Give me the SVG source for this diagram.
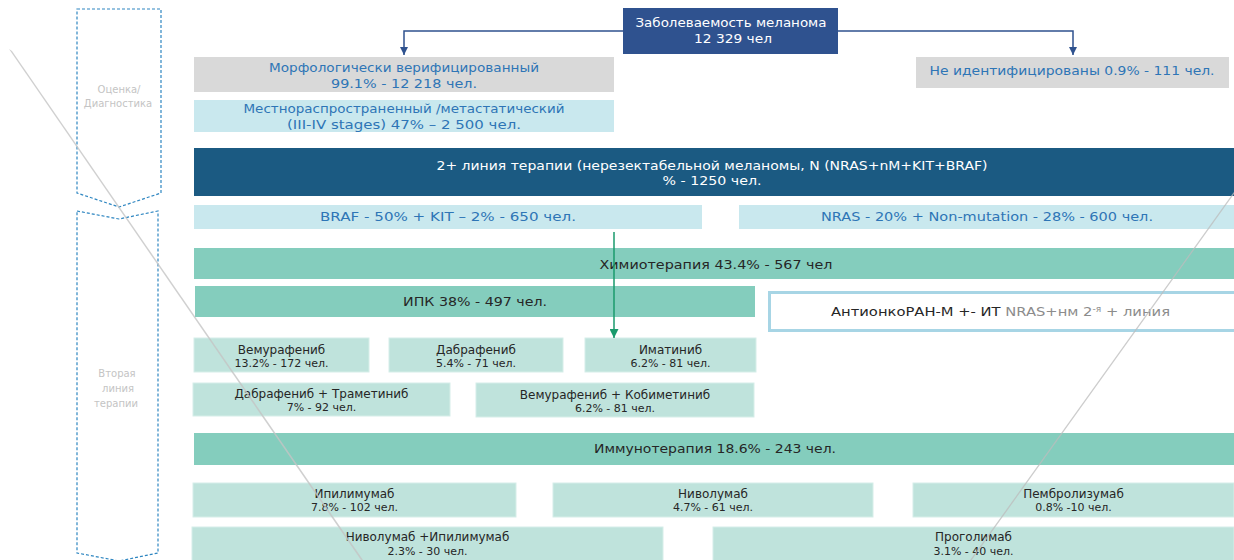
<svg xmlns="http://www.w3.org/2000/svg" width="1234" height="560" viewBox="0 0 1234 560">
<defs>
<style>
.bg{fill:#ffffff}
.chev{fill:none;stroke:#2e86c1;stroke-width:1.2;stroke-dasharray:3,2}
.side{font-family:"DejaVu Sans","Open Sans",sans-serif;font-size:10px;fill:#c4c4c4;text-anchor:middle}
.gray{fill:#d9d9d9}
.lblue{fill:#c9e8ee}
.dblue{fill:#1b5a82}
.top{fill:#2f528f}
.green{fill:#84cdbd}
.sub{fill:#bfe3dc;stroke:#d6eee9;stroke-width:1}
.tb{font-family:"DejaVu Sans","Liberation Sans",sans-serif;font-size:13px;fill:#2e75b6;text-anchor:middle}
.tn{font-family:"DejaVu Sans","Liberation Sans",sans-serif;font-size:13px;text-anchor:middle}
.tv{font-family:"DejaVu Sans","Liberation Sans",sans-serif;text-anchor:middle;fill:#262626}
.nm{font-family:"DejaVu Sans","Liberation Sans",sans-serif;text-anchor:middle;fill:#262626;font-size:12px}
.pc{font-family:"DejaVu Sans","Liberation Sans",sans-serif;text-anchor:middle;fill:#262626;font-size:11px}
.w{fill:#ffffff}
.bl{fill:#2e75b6}
.dk{fill:#262626}
.conn{fill:none;stroke:#2f528f;stroke-width:1.5}
.gconn{fill:none;stroke:#1a9a6c;stroke-width:1.5}
.deco{stroke:#bdbdbd;stroke-linecap:round;opacity:0.75}
</style>
<marker id="ab" viewBox="0 0 10 10" refX="10" refY="5" markerWidth="8" markerHeight="8" markerUnits="userSpaceOnUse" orient="auto"><path d="M0,0 L10,5 L0,10 z" fill="#2f528f"/></marker>
<marker id="ag" viewBox="0 0 10 10" refX="10" refY="5" markerWidth="9" markerHeight="9" markerUnits="userSpaceOnUse" orient="auto"><path d="M0,0 L10,5 L0,10 z" fill="#1a9a6c"/></marker>
</defs>
<rect class="bg" x="0" y="0" width="1234" height="560"/>

<g id="stage-diagnostics">
<polygon class="chev" points="77,9 161,9 161,193 119,207 77,193"/>
<text class="side" x="119" y="93">Оценка/</text>
<text class="side" x="118" y="107">Диагностика</text>
</g>
<g id="stage-second-line">
<polygon class="chev" points="77,211 119,219 158,211 158,553 119,561 77,553"/>
<text class="side" x="117" y="377">Вторая</text>
<text class="side" x="118" y="392">линия</text>
<text class="side" x="116" y="407">терапии</text>
</g>

<g id="incidence">
<rect class="top" x="623" y="8" width="215" height="46"/>
<text class="tn w" x="731" y="27" textLength="191" lengthAdjust="spacingAndGlyphs">Заболеваемость меланома</text>
<text class="tn w" x="733" y="43" textLength="78" lengthAdjust="spacingAndGlyphs">12 329 чел</text>
</g>

<g id="verified">
<rect class="gray" x="194" y="57" width="420" height="35"/>
<text class="tb" x="404" y="72" textLength="270" lengthAdjust="spacingAndGlyphs">Морфологически верифицированный</text>
<text class="tb" x="404" y="88" textLength="146" lengthAdjust="spacingAndGlyphs">99.1% - 12 218 чел.</text>
</g>

<g id="unidentified">
<rect class="gray" x="916" y="57" width="313" height="31"/>
<text class="tb" x="1072" y="75" textLength="285" lengthAdjust="spacingAndGlyphs">Не идентифицированы 0.9% - 111 чел.</text>
</g>

<g id="advanced">
<rect class="lblue" x="194" y="100" width="420" height="32"/>
<text class="tb" x="404" y="113" textLength="321" lengthAdjust="spacingAndGlyphs">Местнораспространенный /метастатический</text>
<text class="tb" x="404" y="129" textLength="234" lengthAdjust="spacingAndGlyphs">(III-IV stages) 47% – 2 500 чел.</text>
</g>

<g id="second-line">
<rect class="dblue" x="194" y="148" width="1040" height="48"/>
<text class="tn w" x="712" y="170" textLength="551" lengthAdjust="spacingAndGlyphs">2+ линия  терапии (нерезектабельной меланомы, N (NRAS+nM+KIT+BRAF)</text>
<text class="tn w" x="712" y="185" textLength="99" lengthAdjust="spacingAndGlyphs">% - 1250 чел.</text>
</g>

<g id="braf">
<rect class="lblue" x="194" y="205" width="508" height="24"/>
<text class="tn bl" x="448" y="221" textLength="256" lengthAdjust="spacingAndGlyphs">BRAF - 50% + KIT – 2% -  650 чел.</text>
</g>

<g id="nras">
<rect class="lblue" x="739" y="205" width="495" height="24"/>
<text class="tn bl" x="987" y="221" textLength="332" lengthAdjust="spacingAndGlyphs">NRAS - 20% + Non-mutation - 28% - 600 чел.</text>
</g>

<g id="chemo">
<rect class="green" x="194" y="248" width="1040" height="31"/>
<text class="tv" font-size="13" x="716" y="269" textLength="233" lengthAdjust="spacingAndGlyphs">Химиотерапия  43.4% - 567 чел</text>
</g>

<g id="ipk">
<rect class="green" x="195" y="286" width="560" height="31"/>
<text class="tv" font-size="13" x="475" y="306" textLength="144" lengthAdjust="spacingAndGlyphs">ИПК 38% - 497 чел.</text>
</g>

<g id="antionkoran">
<rect x="769.5" y="292.5" width="470" height="38" fill="#ffffff" stroke="#a7d5e5" stroke-width="3"/>
<text font-family="DejaVu Sans, Liberation Sans, sans-serif" font-size="13" x="831" y="316" fill="#262626" textLength="339" lengthAdjust="spacingAndGlyphs">АнтионкоРАН-М +- ИТ <tspan fill="#8c8c8c">NRAS+нм 2</tspan><tspan fill="#8c8c8c" font-size="8" dy="-4">-я</tspan><tspan fill="#8c8c8c" dy="4"> + линия</tspan></text>
</g>

<g id="vemurafenib">
<rect class="sub" x="194" y="338" width="175" height="34"/>
<text class="nm" x="281.5" y="354">Вемурафениб</text>
<text class="pc" x="281.5" y="367">13.2% - 172 чел.</text>
</g>
<g id="dabrafenib">
<rect class="sub" x="389" y="338" width="174" height="34"/>
<text class="nm" x="476" y="354">Дабрафениб</text>
<text class="pc" x="476" y="367">5.4% - 71 чел.</text>
</g>
<g id="imatinib">
<rect class="sub" x="585" y="338" width="171" height="34"/>
<text class="nm" x="670.5" y="354">Иматиниб</text>
<text class="pc" x="670.5" y="367">6.2% - 81 чел.</text>
</g>
<g id="dabrafenib-trametinib">
<rect class="sub" x="193" y="383" width="257" height="33"/>
<text class="nm" x="321.5" y="398">Дабрафениб + Траметиниб</text>
<text class="pc" x="321.5" y="411">7% - 92 чел.</text>
</g>
<g id="vemurafenib-cobimetinib">
<rect class="sub" x="476" y="383" width="278" height="34"/>
<text class="nm" x="615" y="399">Вемурафениб + Кобиметиниб</text>
<text class="pc" x="615" y="412">6.2% - 81 чел.</text>
</g>

<g id="immuno">
<rect class="green" x="194" y="433" width="1040" height="32"/>
<text class="tn dk" x="715" y="453" textLength="242" lengthAdjust="spacingAndGlyphs">Иммунотерапия 18.6% - 243 чел.</text>
</g>

<g id="ipilimumab">
<rect class="sub" x="193" y="483" width="323" height="34"/>
<text class="nm" x="354.5" y="498">Ипилимумаб</text>
<text class="pc" x="354.5" y="511">7.8% - 102 чел.</text>
</g>
<g id="nivolumab">
<rect class="sub" x="553" y="483" width="320" height="34"/>
<text class="nm" x="713" y="498">Ниволумаб</text>
<text class="pc" x="713" y="511">4.7% - 61 чел.</text>
</g>
<g id="pembrolizumab">
<rect class="sub" x="913" y="483" width="321" height="34"/>
<text class="nm" x="1073.5" y="498">Пембролизумаб</text>
<text class="pc" x="1073.5" y="511">0.8% -10 чел.</text>
</g>
<g id="nivolumab-ipilimumab">
<rect class="sub" x="192" y="527" width="471" height="34"/>
<text class="nm" x="427.5" y="541">Ниволумаб +Ипилимумаб</text>
<text class="pc" x="427.5" y="555">2.3% - 30 чел.</text>
</g>
<g id="progolimab">
<rect class="sub" x="713" y="527" width="521" height="34"/>
<text class="nm" x="973.5" y="541">Проголимаб</text>
<text class="pc" x="973.5" y="555">3.1% - 40 чел.</text>
</g>

<g id="connectors">
<path class="conn" d="M623,31 H404 V55" marker-end="url(#ab)"/>
<path class="conn" d="M838,31 H1073 V55" marker-end="url(#ab)"/>
<path class="gconn" d="M614,232 V338" marker-end="url(#ag)"/>
</g>

<g id="decor">
<polygon points="9,49 12,51 363,560 361,560" fill="#c4c4c4" opacity="0.8"/>
<line class="deco" x1="1234" y1="193" x2="971" y2="560" stroke-width="1.3"/>
</g>
</svg>
